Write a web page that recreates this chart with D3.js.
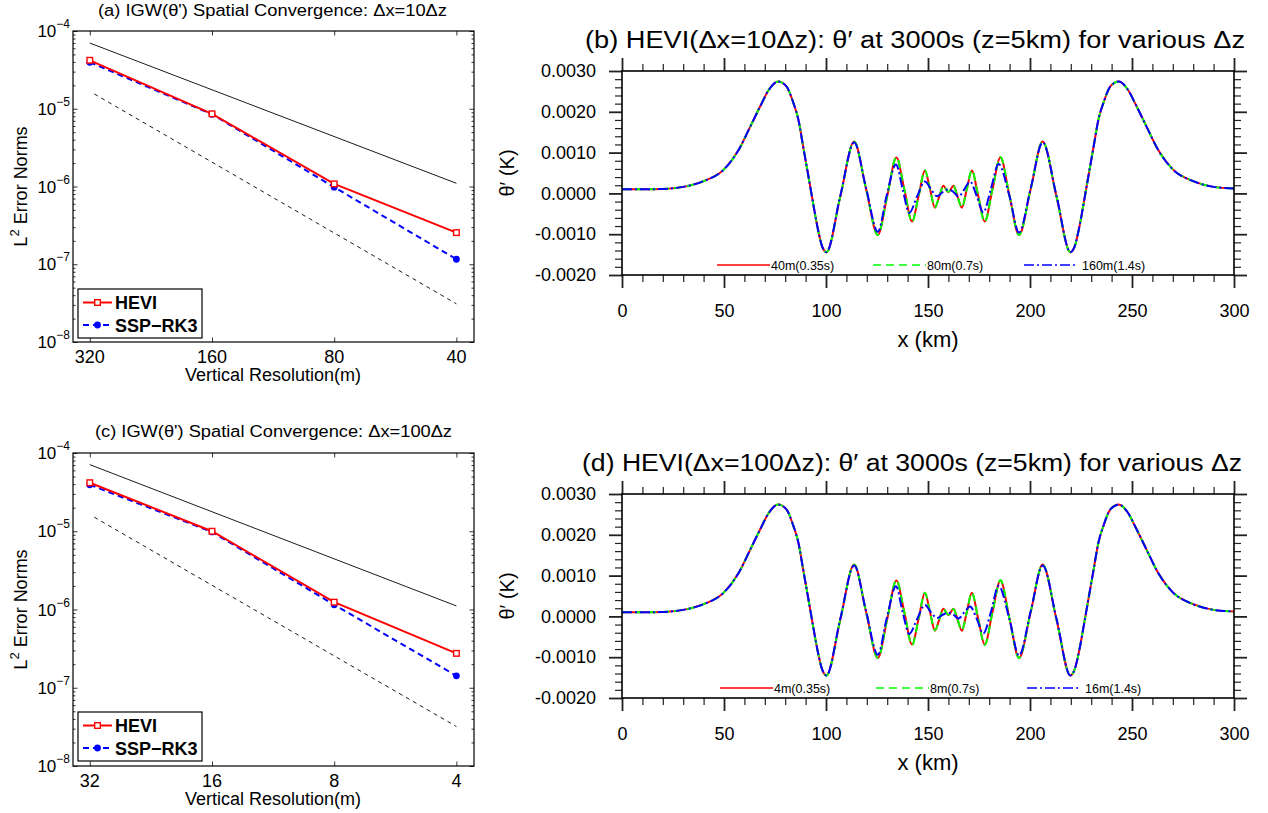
<!DOCTYPE html>
<html>
<head>
<meta charset="utf-8">
<script src="https://cdn.jsdelivr.net/npm/d3@7"></script>
<style>
body { margin: 0; background: #fff; }
svg { display: block; }
text { font-family: "Liberation Sans", Arial, Helvetica, sans-serif; fill: #000; }
</style>
</head>
<body>
<script>
// ---- convergence data, panels (a) and (c) ----
var resA = [320, 160, 80, 40];
var hevA = [4.2e-5, 8.6e-6, 1.08e-6, 2.55e-7];
var sspA = [3.96e-5, 8.5e-6, 9.8e-7, 1.16e-7];
var ord2ResA = [320, 40], ord2A = [7.0e-5, 1.1e-6];     // 2nd order guide
var ord3ResA = [312, 40], ord3A = [1.55e-5, 3.1e-8];    // 3rd order guide

var resC = [32, 16, 8, 4];
var hevC = [4.17e-5, 1.0e-5, 1.24e-6, 2.75e-7];
var sspC = [3.93e-5, 9.8e-6, 1.15e-6, 1.42e-7];
var ord2ResC = [32, 4], ord2C = [7.1e-5, 1.11e-6];
var ord3ResC = [31.2, 4], ord3C = [1.51e-5, 3.2e-8];

var decades = [1e-4, 1e-5, 1e-6, 1e-7, 1e-8];

// ---- theta' at 3000s, panels (b) and (d) ----
var xRG = [0,10,20,30,40,50,57,63,68,72,76.5,80.5,84,86.5,88.8,91.1,93.4,95.8,98.1,100.2,
  107,113.8,119.6,125.4,130,134.5,138.4,142.2,145.4,148.5,151,153.4,155.5,157.5,160,
  162.5,164.5,166.6,169,171.5,174.6,177.8,181.6,185.5,190,194.6,200.4,206.2,213,219.8,
  221.9,224.2,226.6,228.9,231.2,233.5,236,239.5,243.5,248,252,257,263,270,280,290,300];
var xBl = [0,10,20,30,40,50,57,63,68,72,76.5,80.5,84,86.5,88.8,91.1,93.4,95.8,98.1,100.2,
  107,113.8,119.6,125.4,129.8,134.3,137.6,140.8,144.6,148.5,151.5,154.4,157.2,160,
  162.6,164.9,167.8,170.6,174,177.1,180.8,184.6,189.8,194.6,200.4,206.2,213,219.8,
  221.9,224.2,226.6,228.9,231.2,233.5,236,239.5,243.5,248,252,257,263,270,280,290,300];

var th40b = [0.00010,0.00010,0.00011,0.00016,0.00030,0.00059,0.00105,0.00165,0.00216,0.00254,
  0.00274,0.00263,0.00222,0.00180,0.00115,0.00050,-0.00016,-0.00082,-0.00130,-0.00144,
  -0.00008,0.00127,0.00012,-0.00102,-0.00007,0.00088,0.00010,-0.00069,-0.00006,0.00056,
  0.00010,-0.00035,-0.00008,0.00019,0.00003,0.00019,-0.00008,-0.00035,0.00010,0.00056,
  -0.00006,-0.00069,0.00010,0.00088,-0.00007,-0.00102,0.00012,0.00127,-0.00008,-0.00144,
  -0.00130,-0.00082,-0.00016,0.00050,0.00115,0.00180,0.00222,0.00263,0.00274,0.00254,
  0.00216,0.00165,0.00105,0.00059,0.00030,0.00016,0.00012];
var th80b = [0.00010,0.00010,0.00011,0.00016,0.00030,0.00059,0.00105,0.00165,0.00216,0.00254,
  0.00274,0.00263,0.00222,0.00180,0.00115,0.00050,-0.00016,-0.00082,-0.00130,-0.00144,
  -0.00008,0.00127,0.00012,-0.00102,-0.00007,0.00089,0.00010,-0.00070,-0.00006,0.00057,
  0.00010,-0.00034,-0.00008,0.00018,0.00004,0.00018,-0.00008,-0.00034,0.00010,0.00057,
  -0.00006,-0.00070,0.00010,0.00089,-0.00007,-0.00102,0.00012,0.00127,-0.00008,-0.00144,
  -0.00130,-0.00082,-0.00016,0.00050,0.00115,0.00180,0.00222,0.00263,0.00274,0.00254,
  0.00216,0.00165,0.00105,0.00059,0.00030,0.00016,0.00012];
var th160b = [0.00010,0.00010,0.00011,0.00016,0.00030,0.00059,0.00105,0.00165,0.00216,0.00254,
  0.00274,0.00263,0.00222,0.00180,0.00115,0.00050,-0.00016,-0.00082,-0.00130,-0.00144,
  -0.00006,0.00125,0.00014,-0.00094,-0.00004,0.00071,0.00010,-0.00048,-0.00008,0.00029,
  0.00010,-0.00007,0.00003,0.00010,0.00003,-0.00008,0.00010,0.00029,-0.00008,-0.00047,
  0.00010,0.00072,-0.00004,-0.00096,0.00014,0.00125,-0.00006,-0.00144,
  -0.00130,-0.00082,-0.00016,0.00050,0.00115,0.00180,0.00222,0.00263,0.00274,0.00254,
  0.00216,0.00165,0.00105,0.00059,0.00030,0.00016,0.00012];

var th4d = [0.00010,0.00010,0.00011,0.00016,0.00030,0.00059,0.00105,0.00165,0.00216,0.00254,
  0.00274,0.00263,0.00222,0.00180,0.00115,0.00050,-0.00016,-0.00082,-0.00130,-0.00145,
  -0.00008,0.00127,0.00012,-0.00102,-0.00007,0.00088,0.00010,-0.00069,-0.00006,0.00058,
  0.00010,-0.00035,-0.00008,0.00019,0.00003,0.00019,-0.00008,-0.00035,0.00010,0.00058,
  -0.00006,-0.00069,0.00010,0.00088,-0.00007,-0.00102,0.00012,0.00127,-0.00008,-0.00145,
  -0.00130,-0.00082,-0.00016,0.00050,0.00115,0.00180,0.00222,0.00263,0.00274,0.00254,
  0.00216,0.00165,0.00105,0.00059,0.00030,0.00016,0.00012];
var th8d = [0.00010,0.00010,0.00011,0.00016,0.00030,0.00059,0.00105,0.00165,0.00216,0.00254,
  0.00274,0.00263,0.00222,0.00180,0.00115,0.00050,-0.00016,-0.00082,-0.00130,-0.00145,
  -0.00008,0.00127,0.00012,-0.00102,-0.00007,0.00089,0.00010,-0.00070,-0.00006,0.00058,
  0.00010,-0.00034,-0.00008,0.00018,0.00004,0.00018,-0.00008,-0.00034,0.00010,0.00058,
  -0.00006,-0.00070,0.00010,0.00089,-0.00007,-0.00102,0.00012,0.00127,-0.00008,-0.00145,
  -0.00130,-0.00082,-0.00016,0.00050,0.00115,0.00180,0.00222,0.00263,0.00274,0.00254,
  0.00216,0.00165,0.00105,0.00059,0.00030,0.00016,0.00012];
var th16d = [0.00010,0.00010,0.00011,0.00016,0.00030,0.00059,0.00105,0.00165,0.00216,0.00254,
  0.00274,0.00263,0.00222,0.00180,0.00115,0.00050,-0.00016,-0.00082,-0.00130,-0.00145,
  -0.00006,0.00125,0.00014,-0.00094,-0.00004,0.00074,0.00010,-0.00043,-0.00007,0.00028,
  0.00010,-0.00004,0.00004,0.00009,0.00004,-0.00005,0.00010,0.00024,-0.00007,-0.00042,
  0.00010,0.00075,-0.00004,-0.00096,0.00014,0.00125,-0.00006,-0.00145,
  -0.00130,-0.00082,-0.00016,0.00050,0.00115,0.00180,0.00222,0.00263,0.00274,0.00254,
  0.00216,0.00165,0.00105,0.00059,0.00030,0.00016,0.00012];

var xMajor = [0, 50, 100, 150, 200, 250, 300];
var yMajor = [-0.002, -0.001, 0, 0.001, 0.002, 0.003];

var svg = d3.select("body").append("svg")
    .attr("width", 1268)
    .attr("height", 813);

function zipXY(xs, ys) {
  return xs.map(function(d, i) { return [d, ys[i]]; });
}

// log-log convergence panel
function convPanel(o) {
  var left = 73, right = 474;
  var x = d3.scaleLog().domain(o.xDom).range([left, right]);
  var y = d3.scaleLog().domain([1e-8, 1e-4]).range([o.bottom, o.top]);
  var g = svg.append("g");

  // inward ticks, MATLAB style
  var minor = [];
  decades.slice(0, 4).forEach(function(d) {
    for (var k = 2; k <= 9; k++) minor.push(d / 10 * k);
  });
  g.append("g").attr("transform", "translate(" + left + ",0)")
      .call(d3.axisLeft(y).tickValues(minor).tickSize(-2.5).tickFormat(""));
  g.append("g").attr("transform", "translate(" + right + ",0)")
      .call(d3.axisRight(y).tickValues(minor).tickSize(-2.5).tickFormat(""));
  g.append("g").attr("transform", "translate(" + left + ",0)")
      .call(d3.axisLeft(y).tickValues(decades).tickSize(-4.5).tickFormat(""));
  g.append("g").attr("transform", "translate(" + right + ",0)")
      .call(d3.axisRight(y).tickValues(decades).tickSize(-4.5).tickFormat(""));
  g.append("g").attr("transform", "translate(0," + o.bottom + ")")
      .call(d3.axisBottom(x).tickValues(o.res).tickSize(-4.5).tickFormat(""));
  g.append("g").attr("transform", "translate(0," + o.top + ")")
      .call(d3.axisTop(x).tickValues(o.res).tickSize(-4.5).tickFormat(""));
  g.selectAll(".domain").remove();
  g.selectAll(".tick line").attr("stroke", "#000").attr("stroke-width", 0.8);

  // decade labels 10^-n
  decades.forEach(function(d) {
    var t = g.append("text")
        .attr("x", 70)
        .attr("y", y(d) + 6)
        .attr("text-anchor", "end")
        .style("font-size", "17px")
        .text("10");
    t.append("tspan")
        .attr("dy", -9)
        .style("font-size", "12px")
        .text("\u2212" + Math.round(-Math.log10(d)));
  });

  // x labels
  g.selectAll(".xl").data(o.res).enter().append("text")
      .attr("x", function(d) { return x(d); })
      .attr("y", o.bottom + 21)
      .attr("text-anchor", "middle")
      .style("font-size", "18px")
      .text(function(d) { return d; });

  g.append("text")
      .attr("x", 273)
      .attr("y", o.bottom + 39)
      .attr("text-anchor", "middle")
      .style("font-size", "18px")
      .text("Vertical Resolution(m)");

  var yl = g.append("text")
      .attr("transform", "translate(27," + ((o.top + o.bottom) / 2) + ") rotate(-90)")
      .attr("text-anchor", "middle")
      .style("font-size", "18px")
      .text("L");
  yl.append("tspan").attr("dy", -8).style("font-size", "13px").text("2");
  yl.append("tspan").attr("dy", 8).text(" Error Norms");

  g.append("text")
      .attr("x", o.titleX)
      .attr("y", o.titleY)
      .attr("textLength", o.titleW)
      .attr("lengthAdjust", "spacingAndGlyphs")
      .style("font-size", "16px")
      .text(o.title);

  // guide lines
  var line = d3.line().x(function(d) { return x(d[0]); }).y(function(d) { return y(d[1]); });
  g.append("path").datum(zipXY(o.r2x, o.r2))
      .attr("d", line).attr("fill", "none").attr("stroke", "#000").attr("stroke-width", 0.9);
  g.append("path").datum(zipXY(o.r3x, o.r3))
      .attr("d", line).attr("fill", "none").attr("stroke", "#000").attr("stroke-width", 0.9)
      .attr("stroke-dasharray", "4,4");

  // SSP-RK3
  var ssp = zipXY(o.res, o.ssp);
  g.append("path").datum(ssp)
      .attr("d", line).attr("fill", "none").attr("stroke", "#0000ff").attr("stroke-width", 2)
      .attr("stroke-dasharray", "6,4");
  g.selectAll(".sp").data(ssp).enter().append("circle")
      .attr("cx", function(d) { return x(d[0]); })
      .attr("cy", function(d) { return y(d[1]); })
      .attr("r", 3.4)
      .attr("fill", "#0000ff");

  // HEVI
  var hev = zipXY(o.res, o.hev);
  g.append("path").datum(hev)
      .attr("d", line).attr("fill", "none").attr("stroke", "#ff0000").attr("stroke-width", 2);
  g.selectAll(".hp").data(hev).enter().append("rect")
      .attr("x", function(d) { return x(d[0]) - 2.8; })
      .attr("y", function(d) { return y(d[1]) - 2.8; })
      .attr("width", 5.6).attr("height", 5.6)
      .attr("fill", "#fff").attr("stroke", "#ff0000").attr("stroke-width", 1.4);

  // frame
  g.append("rect")
      .attr("x", left).attr("y", o.top)
      .attr("width", right - left).attr("height", o.bottom - o.top)
      .attr("fill", "none").attr("stroke", "#000").attr("stroke-width", 1.2);

  // legend
  var lg = g.append("g").attr("transform", "translate(78," + o.legY + ")");
  lg.append("rect").attr("width", 124).attr("height", 49)
      .attr("fill", "#fff").attr("stroke", "#000").attr("stroke-width", 1.2);
  lg.append("line").attr("x1", 5).attr("x2", 34).attr("y1", 13.5).attr("y2", 13.5)
      .attr("stroke", "#ff0000").attr("stroke-width", 2);
  lg.append("rect").attr("x", 16.7).attr("y", 10.7).attr("width", 5.6).attr("height", 5.6)
      .attr("fill", "#fff").attr("stroke", "#ff0000").attr("stroke-width", 1.4);
  lg.append("line").attr("x1", 5).attr("x2", 34).attr("y1", 36).attr("y2", 36)
      .attr("stroke", "#0000ff").attr("stroke-width", 2).attr("stroke-dasharray", "6,4");
  lg.append("circle").attr("cx", 19.5).attr("cy", 36).attr("r", 3.4).attr("fill", "#0000ff");
  lg.append("text").attr("x", 37).attr("y", 20).style("font-size", "18px")
      .style("font-weight", "bold").text("HEVI");
  lg.append("text").attr("x", 37).attr("y", 42.5).style("font-size", "18px")
      .style("font-weight", "bold").text("SSP\u2212RK3");
}

// theta' profile panel
function wavePanel(o) {
  var left = 622, right = 1234;
  var x = d3.scaleLinear().domain([0, 300]).range([left, right]);
  var y = d3.scaleLinear().domain([-0.002, 0.003]).range([o.bottom, o.top]);
  var g = svg.append("g");
  var fmt = function(v) { return d3.format(".4f")(v).replace("\u2212", "-"); };
  var xMinor = d3.range(0, 301, 10).filter(function(v) { return v % 50 !== 0; });
  var yMinor = d3.range(-20, 31, 2).filter(function(v) { return v % 10 !== 0; })
      .map(function(v) { return v / 10000; });

  // outward ticks on all four sides
  function ax(axis, tx, ty) {
    return g.append("g").attr("transform", "translate(" + tx + "," + ty + ")").call(axis);
  }
  ax(d3.axisLeft(y).tickValues(yMinor).tickSize(7).tickFormat(""), left, 0).attr("class", "mn");
  ax(d3.axisRight(y).tickValues(yMinor).tickSize(7).tickFormat(""), right, 0).attr("class", "mn");
  ax(d3.axisBottom(x).tickValues(xMinor).tickSize(7).tickFormat(""), 0, o.bottom).attr("class", "mn");
  ax(d3.axisTop(x).tickValues(xMinor).tickSize(7).tickFormat(""), 0, o.top).attr("class", "mn");
  ax(d3.axisLeft(y).tickValues(yMajor).tickSize(13).tickPadding(13).tickFormat(fmt), left, 0).attr("class", "mj");
  ax(d3.axisRight(y).tickValues(yMajor).tickSize(13).tickFormat(""), right, 0).attr("class", "mj");
  ax(d3.axisBottom(x).tickValues(xMajor).tickSize(13).tickPadding(16), 0, o.bottom).attr("class", "mj");
  ax(d3.axisTop(x).tickValues(xMajor).tickSize(13).tickFormat(""), 0, o.top).attr("class", "mj");
  g.selectAll(".domain").remove();
  g.selectAll(".mn .tick line").attr("stroke", "#222").attr("stroke-width", 1.2);
  g.selectAll(".mj .tick line").attr("stroke", "#222").attr("stroke-width", 1.8);
  g.selectAll(".tick text").style("font-size", "18px").style("font-family", null).attr("fill", "#000");

  var line = d3.line()
      .x(function(d) { return x(d[0]); })
      .y(function(d) { return y(d[1]); })
      .curve(d3.curveMonotoneX);

  g.append("path").datum(zipXY(xRG, o.s1))
      .attr("d", line).attr("fill", "none").attr("stroke", "#ff0000").attr("stroke-width", 2);
  g.append("path").datum(zipXY(xRG, o.s2))
      .attr("d", line).attr("fill", "none").attr("stroke", "#00ff00").attr("stroke-width", 2)
      .attr("stroke-dasharray", "8,5");
  g.append("path").datum(zipXY(xBl, o.s3))
      .attr("d", line).attr("fill", "none").attr("stroke", "#0000ff").attr("stroke-width", 2)
      .attr("stroke-dasharray", "10,3,2,3");

  g.append("rect")
      .attr("x", left).attr("y", o.top)
      .attr("width", right - left).attr("height", o.bottom - o.top)
      .attr("fill", "none").attr("stroke", "#000").attr("stroke-width", 1.6);

  // legend inside the plot
  var cols = ["#ff0000", "#00ff00", "#0000ff"];
  var dash = [null, "8,5", "10,3,2,3"];
  var lx = [717, 873, 1024];
  o.labels.forEach(function(lab, i) {
    g.append("line")
        .attr("x1", lx[i] + o.legDx).attr("x2", lx[i] + o.legDx + 53)
        .attr("y1", o.legY).attr("y2", o.legY)
        .attr("stroke", cols[i]).attr("stroke-width", 1.6)
        .attr("stroke-dasharray", dash[i]);
    g.append("text")
        .attr("x", lx[i] + o.legDx + 54 + (i === 2 ? 4 : 0))
        .attr("y", o.legY + 4.5)
        .style("font-size", "12.5px")
        .text(lab);
  });

  g.append("text")
      .attr("x", 928).attr("y", o.bottom + 72)
      .attr("text-anchor", "middle")
      .style("font-size", "22px")
      .text("x (km)");

  g.append("text")
      .attr("transform", "translate(514," + ((o.top + o.bottom) / 2) + ") rotate(-90)")
      .attr("text-anchor", "middle")
      .style("font-size", "20px")
      .text("\u03b8\u2032 (K)");

  g.append("text")
      .attr("x", o.titleX).attr("y", o.titleY)
      .attr("textLength", o.titleW)
      .attr("lengthAdjust", "spacingAndGlyphs")
      .style("font-size", "23px")
      .text(o.title);
}

convPanel({
  top: 31, bottom: 342, xDom: [352, 36.2], res: resA, hev: hevA, ssp: sspA,
  r2x: ord2ResA, r2: ord2A, r3x: ord3ResA, r3: ord3A, legY: 289,
  title: "(a) IGW(\u03b8') Spatial Convergence: \u0394x=10\u0394z", titleX: 98, titleY: 16, titleW: 349
});
convPanel({
  top: 453, bottom: 766, xDom: [35.2, 3.62], res: resC, hev: hevC, ssp: sspC,
  r2x: ord2ResC, r2: ord2C, r3x: ord3ResC, r3: ord3C, legY: 712,
  title: "(c) IGW(\u03b8') Spatial Convergence: \u0394x=100\u0394z", titleX: 95, titleY: 437, titleW: 357
});
wavePanel({
  top: 71, bottom: 275, s1: th40b, s2: th80b, s3: th160b, legY: 265, legDx: 0,
  labels: ["40m(0.35s)", "80m(0.7s)", "160m(1.4s)"],
  title: "(b) HEVI(\u0394x=10\u0394z): \u03b8\u2032 at 3000s (z=5km) for various \u0394z",
  titleX: 585, titleY: 48, titleW: 660
});
wavePanel({
  top: 494, bottom: 698, s1: th4d, s2: th8d, s3: th16d, legY: 688, legDx: 3,
  labels: ["4m(0.35s)", "8m(0.7s)", "16m(1.4s)"],
  title: "(d) HEVI(\u0394x=100\u0394z): \u03b8\u2032 at 3000s (z=5km) for various \u0394z",
  titleX: 582, titleY: 471, titleW: 660
});
</script>
</body>
</html>
